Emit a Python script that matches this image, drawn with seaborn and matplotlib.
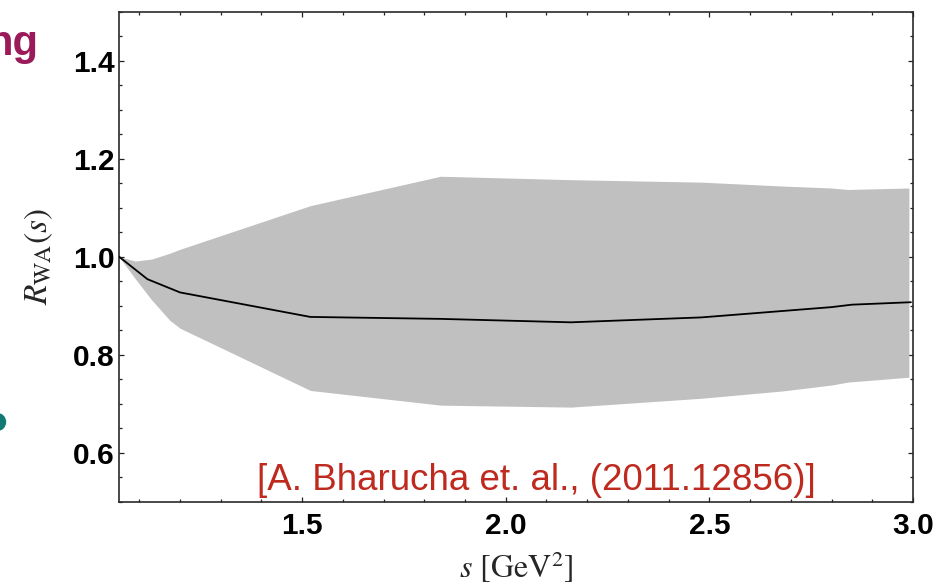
import matplotlib
matplotlib.use("Agg")
import matplotlib.pyplot as plt
from matplotlib.patches import Ellipse
from matplotlib.ticker import MultipleLocator
import seaborn as sns
import pandas as pd

# ---- data ----
s_central = [1.05, 1.12, 1.20, 1.52, 1.84, 2.16, 2.48, 2.80, 2.85, 2.995]
r_central = [1.000, 0.954, 0.927, 0.877, 0.873, 0.866, 0.876, 0.897, 0.902, 0.907]

s_band = [1.05, 1.09, 1.13, 1.175, 1.20, 1.52, 1.84, 2.16, 2.48, 2.68, 2.80, 2.84, 2.99]
r_upper = [1.000, 0.991, 0.995, 1.007, 1.015, 1.104, 1.164, 1.157, 1.152, 1.144, 1.140, 1.137, 1.140]
r_lower = [1.000, 0.955, 0.912, 0.870, 0.854, 0.727, 0.697, 0.693, 0.711, 0.726, 0.738, 0.744, 0.754]

x_ticks = [1.5, 2.0, 2.5, 3.0]
y_ticks = [0.6, 0.8, 1.0, 1.2, 1.4]
x_limits = (1.05, 3.0)
y_limits = (0.5, 1.5)

citation = "[A. Bharucha et. al., (2011.12856)]"

# ---- style ----
sns.set_style("ticks")
plt.rcParams["font.family"] = ["Liberation Sans", "DejaVu Sans"]
plt.rcParams["mathtext.fontset"] = "stix"

fig = plt.figure(figsize=(9.33, 5.87), dpi=100)
ax = fig.add_axes([0.1275, 0.1453, 0.851, 0.835])

band_df = pd.DataFrame({"s": s_band, "upper": r_upper, "lower": r_lower})
line_df = pd.DataFrame({"s": s_central, "R": r_central})

ax.fill_between(band_df["s"], band_df["lower"], band_df["upper"],
                color="#c0c0c0", linewidth=0, zorder=1)
sns.lineplot(data=line_df, x="s", y="R", ax=ax, color="black",
             linewidth=1.3, zorder=3, sort=False)

ax.set_xlim(*x_limits)
ax.set_ylim(*y_limits)
ax.set_xticks(x_ticks)
ax.set_yticks(y_ticks)
ax.set_xticklabels([f"{v:.1f}" for v in x_ticks])
ax.set_yticklabels([f"{v:.1f}" for v in y_ticks])
ax.xaxis.set_minor_locator(MultipleLocator(0.1))
ax.yaxis.set_minor_locator(MultipleLocator(0.05))

ax.tick_params(which="both", direction="in", top=True, right=True,
               color="#222222", width=0.9)
ax.tick_params(which="major", length=3.8)
ax.tick_params(which="minor", length=2.2)
ax.tick_params(axis="y", which="major", pad=3.0)
ax.tick_params(axis="x", which="major", pad=7.5)
for lab in ax.get_xticklabels() + ax.get_yticklabels():
    lab.set_fontsize(21.5)
    lab.set_fontweight("bold")
    lab.set_color("black")

for sp in ax.spines.values():
    sp.set_color("#2a2a2a")
    sp.set_linewidth(1.2)

ax.set_xlabel(r"$s$ [GeV$^2$]", fontsize=23, fontfamily="STIXGeneral")
ax.set_ylabel(r"$R_{\mathrm{WA}}(s)$", fontsize=24, fontfamily="STIXGeneral")
ax.xaxis.set_label_coords(0.5, -0.097)
ax.yaxis.set_label_coords(-0.080, 0.5)

ax.text(1.39, 0.523, citation, color="#bf2a1f", fontsize=26.5,
        ha="left", va="baseline", zorder=4)

# slide fragments around the chart
fig.text(38 / 933, 1 - 55 / 587, "ng", color="#9b1a5a", fontsize=30,
         fontweight="bold", ha="right", va="baseline")
fig.add_artist(Ellipse((-3 / 933, 1 - 422 / 587), width=17 / 933, height=17 / 587,
                       transform=fig.transFigure, color="#137a73", clip_on=False))

fig.savefig("out.png", dpi=100)
